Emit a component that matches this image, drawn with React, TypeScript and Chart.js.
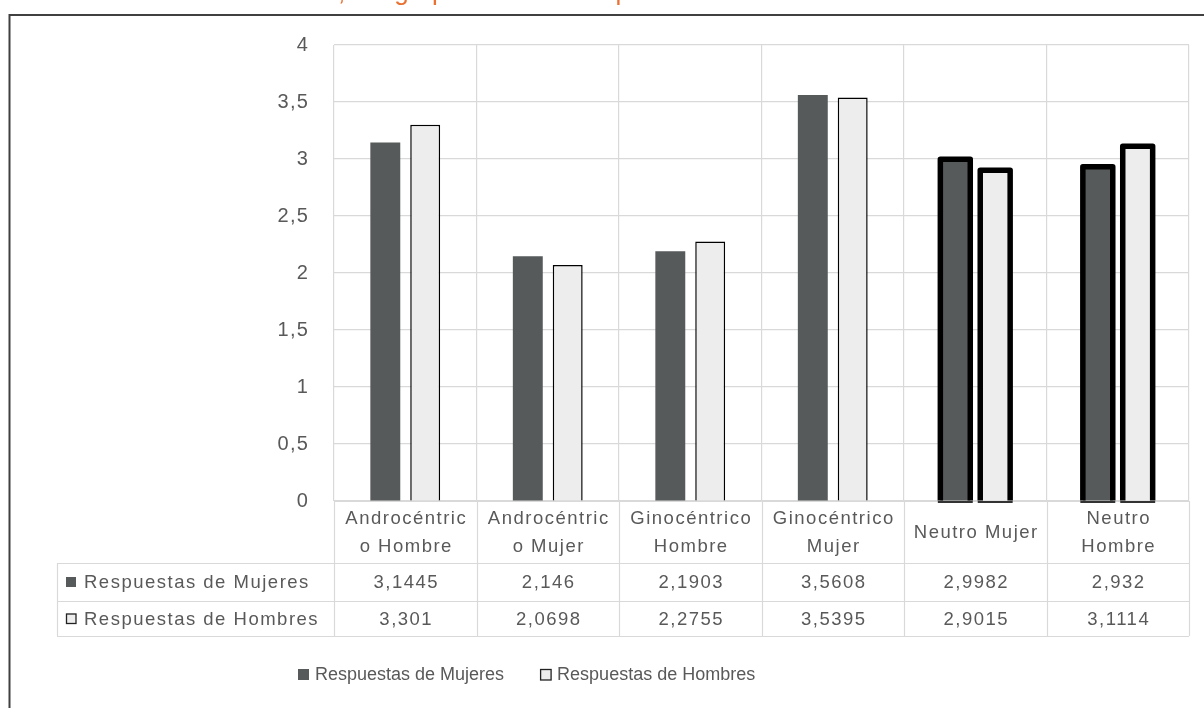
import React, { useEffect, useRef } from "react";
import { Chart, registerables } from "chart.js";

Chart.register(...registerables);

// ---- data ----
const categories: string[][] = [
  ["Androcéntric", "o Hombre"],
  ["Androcéntric", "o Mujer"],
  ["Ginocéntrico", "Hombre"],
  ["Ginocéntrico", "Mujer"],
  ["Neutro Mujer"],
  ["Neutro", "Hombre"],
];
const seriesNames = ["Respuestas de Mujeres", "Respuestas de Hombres"];
const mujeres = [3.1445, 2.146, 2.1903, 3.5608, 2.9982, 2.932];
const hombres = [3.301, 2.0698, 2.2755, 3.5395, 2.9015, 3.1114];
const yTicks = [0, 0.5, 1, 1.5, 2, 2.5, 3, 3.5, 4];
const titlePrefix = "Media de la valoración del anuncio";
const titleRest = ", del grupo de anuncios por sexo";

// ---- styles ----
const FONT = "'Liberation Sans', Arial, sans-serif";
const GRAY = "#595959";
const GRID = "#d9d9d9";
const DARK = "#565a5b";
const LIGHT = "#ededed";
const ORANGE = "#E97132";
const THICK = [false, false, false, false, true, true];

const fmt = (v: number) => String(v).replace(".", ",");

export default function App() {
  const ref = useRef<HTMLCanvasElement>(null);

  useEffect(() => {
    const canvas = ref.current!;

    const extras = {
      id: "extras",
      beforeDraw(chart: any) {
        const ctx = chart.ctx;
        ctx.save();
        ctx.fillStyle = "#fff";
        ctx.fillRect(0, 0, chart.width, chart.height);
        ctx.restore();
        ctx.letterSpacing = "1.2px";
      },
      afterDatasetsDraw(chart: any) {
        const ctx = chart.ctx;
        chart.data.datasets.forEach((_ds: any, di: number) => {
          const meta = chart.getDatasetMeta(di);
          meta.data.forEach((el: any, i: number) => {
            if (!THICK[i]) return;
            const { x, y, base, width } = el.getProps(["x", "y", "base", "width"], true);
            const l = x - width / 2;
            const r = x + width / 2;
            ctx.save();
            ctx.strokeStyle = "#000";
            ctx.lineWidth = 5.5;
            ctx.lineJoin = "round";
            ctx.beginPath();
            ctx.moveTo(l, base);
            ctx.lineTo(l, y);
            ctx.lineTo(r, y);
            ctx.lineTo(r, base);
            ctx.stroke();
            ctx.lineWidth = 2;
            ctx.strokeStyle = "#333";
            ctx.beginPath();
            ctx.moveTo(l - 2.5, base + 1.5);
            ctx.lineTo(r + 2.5, base + 1.5);
            ctx.stroke();
            ctx.restore();
          });
        });
      },
      afterDraw(chart: any) {
        const ctx = chart.ctx;
        const area = chart.chartArea;
        const xs = chart.scales.x;
        const n = categories.length;
        const cw = (area.right - area.left) / n;
        const top = area.bottom;
        const rowCat = top + 62;
        const row1 = rowCat + 38;
        const row2 = row1 + 35;
        const tableLeft = 57;

        ctx.save();
        ctx.strokeStyle = GRID;
        ctx.lineWidth = 1.2;
        for (let i = 0; i <= n; i++) {
          const bx = Math.round(area.left + i * cw) + 0.5;
          ctx.beginPath();
          ctx.moveTo(bx, top);
          ctx.lineTo(bx, row2);
          ctx.stroke();
        }
        [rowCat, row1, row2].forEach((yy) => {
          ctx.beginPath();
          ctx.moveTo(tableLeft, Math.round(yy) + 0.5);
          ctx.lineTo(area.right, Math.round(yy) + 0.5);
          ctx.stroke();
        });
        ctx.beginPath();
        ctx.moveTo(tableLeft + 0.5, rowCat);
        ctx.lineTo(tableLeft + 0.5, row2);
        ctx.stroke();

        // category labels and values
        ctx.letterSpacing = "1.5px";
        ctx.fillStyle = GRAY;
        ctx.font = `18.5px ${FONT}`;
        ctx.textAlign = "center";
        ctx.textBaseline = "middle";
        const catMid = (top + rowCat) / 2;
        categories.forEach((lines, i) => {
          const cx = xs.getPixelForTick(i) + 1;
          const lh = 28;
          lines.forEach((ln, k) => {
            const yy = catMid + 1 + (k - (lines.length - 1) / 2) * lh;
            ctx.fillText(ln, cx, yy);
          });
          ctx.fillText(fmt(mujeres[i]), cx, (rowCat + row1) / 2 + 1);
          ctx.fillText(fmt(hombres[i]), cx, (row1 + row2) / 2 + 1);
        });

        // series labels in table
        ctx.textAlign = "left";
        const rows = [(rowCat + row1) / 2, (row1 + row2) / 2];
        rows.forEach((yy, k) => {
          if (k === 0) {
            ctx.fillStyle = DARK;
            ctx.fillRect(66, yy - 5, 10, 10);
          } else {
            ctx.fillStyle = LIGHT;
            ctx.fillRect(66, yy - 5, 10, 10);
            ctx.strokeStyle = "#222";
            ctx.lineWidth = 1.3;
            ctx.strokeRect(66.5, yy - 4.5, 9.5, 9.5);
          }
          ctx.fillStyle = GRAY;
          ctx.fillText(seriesNames[k], 84, yy + 1);
        });

        // legend
        ctx.letterSpacing = "0px";
        ctx.font = `18px ${FONT}`;
        const ly = 675;
        let lx = 298;
        seriesNames.forEach((name, k) => {
          if (k === 0) {
            ctx.fillStyle = DARK;
            ctx.fillRect(lx, ly - 6, 11, 11);
          } else {
            ctx.fillStyle = LIGHT;
            ctx.fillRect(lx, ly - 6, 11, 11);
            ctx.strokeStyle = "#222";
            ctx.lineWidth = 1.3;
            ctx.strokeRect(lx + 0.5, ly - 5.5, 10.5, 10.5);
          }
          ctx.fillStyle = GRAY;
          ctx.fillText(name, lx + 17, ly);
          lx = lx + 17 + ctx.measureText(name).width + 36;
        });

        // outer frame
        ctx.strokeStyle = "#404040";
        ctx.lineWidth = 2;
        ctx.beginPath();
        ctx.moveTo(1204, 15);
        ctx.lineTo(9.5, 15);
        ctx.lineTo(9.5, 708);
        ctx.stroke();

        // clipped title (only descenders visible)
        ctx.fillStyle = ORANGE;
        ctx.font = `26px ${FONT}`;
        ctx.letterSpacing = "0px";
        ctx.textBaseline = "alphabetic";
        ctx.textAlign = "right";
        ctx.fillText(titlePrefix, 338, 0);
        ctx.textAlign = "left";
        ctx.fillText(titleRest, 338, 0);
        ctx.restore();
      },
    };

    const chart = new Chart(canvas, {
      type: "bar",
      data: {
        labels: categories,
        datasets: [
          {
            label: seriesNames[0],
            data: mujeres,
            backgroundColor: DARK,
            borderWidth: 0,
          },
          {
            label: seriesNames[1],
            data: hombres,
            backgroundColor: LIGHT,
            borderColor: "#000",
            borderWidth: THICK.map((t) => (t ? 0 : 1.5)),
          },
        ],
      },
      options: {
        responsive: false,
        animation: false,
        devicePixelRatio: 1,
        layout: { padding: { left: 0, top: 45, right: 15, bottom: 0 } },
        datasets: {
          bar: { categoryPercentage: 0.56, barPercentage: 0.75 },
        },
        plugins: {
          legend: { display: false },
          tooltip: { enabled: false },
          title: { display: false },
        },
        scales: {
          x: {
            ticks: { display: false },
            grid: { color: GRID, offset: true, drawTicks: false, lineWidth: 1.2 },
            border: { display: true, color: GRID },
            afterFit: (s: any) => {
              s.height = 207;
            },
          },
          y: {
            min: 0,
            max: 4,
            afterBuildTicks: (s: any) => {
              s.ticks = yTicks.map((v) => ({ value: v }));
            },
            ticks: {
              color: GRAY,
              font: { family: FONT, size: 20 },
              padding: 25,
              callback: (v: any) => fmt(Number(v)),
            },
            grid: { color: GRID, drawTicks: false, lineWidth: 1.2 },
            border: { display: false },
            afterFit: (s: any) => {
              s.width = 334;
            },
          },
        },
      },
      plugins: [extras],
    });

    return () => chart.destroy();
  }, []);

  return (
    <div style={{ position: "fixed", left: 0, top: 0, width: 1204, height: 708, background: "#fff" }}>
      <canvas ref={ref} width={1204} height={708} style={{ display: "block" }} />
    </div>
  );
}
